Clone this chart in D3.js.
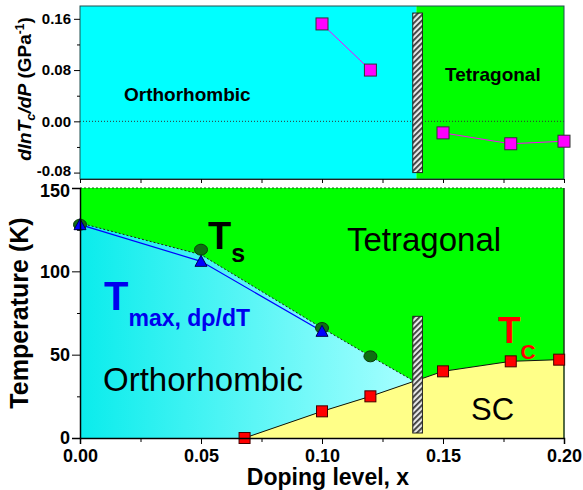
<!DOCTYPE html>
<html>
<head>
<meta charset="utf-8">
<script src="https://cdn.jsdelivr.net/npm/d3@7"></script>
<style>
html,body{margin:0;padding:0;background:#fff;}
svg text{font-family:"Liberation Sans",Arial,sans-serif;}
</style>
</head>
<body>
<svg id="chart" width="583" height="490"></svg>
<script>
// ---------- data ----------
const xTicksMajor = [0, 0.05, 0.10, 0.15, 0.20];
const xTickLabels = ["0.00", "0.05", "0.10", "0.15", "0.20"];
const topYTicks = [-0.08, 0.00, 0.08, 0.16];
const topYTickLabels = ["-0.08", "0.00", "0.08", "0.16"];
const botYTicks = [0, 50, 100, 150];

// top panel: dlnTc/dP
const orthoX = [0.10, 0.12];
const orthoDlnTc = [0.152, 0.080];
const tetraX = [0.15, 0.178, 0.20];
const tetraDlnTc = [-0.018, -0.035, -0.031];

// structural transition Ts
const tsX = [0.00, 0.05, 0.10, 0.12];
const tsT = [128, 113, 66, 49];
// orthorhombic / tetragonal boundary
const boundX = [0.00, 0.05, 0.10, 0.12, 0.137];
const boundT = [129, 110, 66, 49, 35];
// Tmax (d rho / dT)
const tmaxX = [0.00, 0.05, 0.10];
const tmaxT = [128, 106, 64];
// superconducting Tc
const tcX = [0.068, 0.10, 0.12, 0.15, 0.178, 0.198];
const tcT = [0, 16, 25, 40, 46, 47];
// hatched bar (phase boundary)
const barX = [0.1375, 0.1415];
const barTopRange = [-0.080, 0.169];
const barBotRange = [3, 73];

// ---------- scales ----------
const svg = d3.select("#chart");
const x = d3.scaleLinear().domain([0, 0.2]).range([80, 564]);
const yTop = d3.scaleLinear().domain([-0.09, 0.18]).range([179, 6]);
const yBot = d3.scaleLinear().domain([0, 150]).range([438, 188]);

const defs = svg.append("defs");
const grad = defs.append("linearGradient").attr("id", "cyanGrad")
  .attr("gradientUnits", "userSpaceOnUse")
  .attr("x1", x(0)).attr("x2", x(0.137)).attr("y1", 0).attr("y2", 0);
grad.append("stop").attr("offset", "0").attr("stop-color", "#0aecec");
grad.append("stop").attr("offset", "1").attr("stop-color", "#a6ffff");

const pat = defs.append("pattern").attr("id", "hatch")
  .attr("patternUnits", "userSpaceOnUse").attr("width", 4).attr("height", 4)
  .attr("patternTransform", "rotate(45)");
pat.append("rect").attr("width", 4).attr("height", 4).attr("fill", "#e8e8e8");
pat.append("rect").attr("width", 1.8).attr("height", 4).attr("fill", "#3a3a3a");

// ---------- top panel ----------
const gTop = svg.append("g");
gTop.append("rect").attr("x", x(0)).attr("y", yTop(0.18))
  .attr("width", x(0.139) - x(0)).attr("height", yTop(-0.09) - yTop(0.18))
  .attr("fill", "#00ffff");
gTop.append("rect").attr("x", x(0.139)).attr("y", yTop(0.18))
  .attr("width", x(0.2) - x(0.139)).attr("height", yTop(-0.09) - yTop(0.18))
  .attr("fill", "#00ff00");
// zero dotted line
gTop.append("line").attr("x1", x(0)).attr("x2", x(0.2))
  .attr("y1", yTop(0)).attr("y2", yTop(0))
  .attr("stroke", "#333").attr("stroke-width", 1).attr("stroke-dasharray", "1,2");
// frame
gTop.append("rect").attr("x", x(0)).attr("y", yTop(0.18))
  .attr("width", x(0.2) - x(0)).attr("height", yTop(-0.09) - yTop(0.18))
  .attr("fill", "none").attr("stroke", "#205050").attr("stroke-width", 1);
// hatched bar
gTop.append("rect").attr("x", x(barX[0])).attr("y", yTop(barTopRange[1]))
  .attr("width", x(barX[1]) - x(barX[0])).attr("height", yTop(barTopRange[0]) - yTop(barTopRange[1]))
  .attr("fill", "url(#hatch)").attr("stroke", "#222").attr("stroke-width", 1);

const lineTop = d3.line().x(d => x(d[0])).y(d => yTop(d[1]));
[[orthoX, orthoDlnTc], [tetraX, tetraDlnTc]].forEach(([xs, ys]) => {
  const pts = xs.map((v, i) => [v, ys[i]]);
  gTop.append("path").datum(pts).attr("d", lineTop)
    .attr("fill", "none").attr("stroke", "#ff00ff").attr("stroke-width", 1);
  gTop.selectAll(null).data(pts).enter().append("rect")
    .attr("x", d => x(d[0]) - 6).attr("y", d => yTop(d[1]) - 6)
    .attr("width", 12).attr("height", 12)
    .attr("fill", "#ff00ff").attr("stroke", "#333").attr("stroke-width", 1);
});

// top axes
const axTopY = d3.axisLeft(yTop).tickValues(topYTicks)
  .tickFormat((d, i) => topYTickLabels[i]).tickSize(6).tickPadding(3);
const gAxTopY = gTop.append("g").attr("transform", `translate(${x(0)},0)`).call(axTopY);
gAxTopY.select(".domain").remove();
gAxTopY.selectAll("text").attr("font-size", 15).attr("font-weight", "bold").attr("fill", "#000")
  .style("font-family", "Liberation Sans, Arial, sans-serif");
gAxTopY.selectAll("text").filter(d => d === -0.08).attr("dy", "0.2em");
gAxTopY.selectAll("line").attr("stroke", "#000");
const gAxTopYm = gTop.append("g").attr("transform", `translate(${x(0)},0)`)
  .call(d3.axisLeft(yTop).tickValues([-0.04, 0.04, 0.12]).tickFormat("").tickSize(3));
gAxTopYm.select(".domain").remove();

const gAxTopX = gTop.append("g").attr("transform", `translate(0,${yTop(-0.09)})`)
  .call(d3.axisBottom(x).tickValues(d3.range(0, 0.2001, 0.025)).tickFormat("").tickSize(4));
gAxTopX.select(".domain").attr("stroke", "#222");

// top labels
gTop.append("text").attr("x", 124).attr("y", 101).attr("font-size", 19)
  .attr("font-weight", "bold").text("Orthorhombic");
gTop.append("text").attr("x", 445).attr("y", 81).attr("font-size", 19)
  .attr("font-weight", "bold").text("Tetragonal");

// top y label
const tl = gTop.append("text").attr("transform", "translate(31,89) rotate(-90)")
  .attr("text-anchor", "middle").attr("font-size", 19).attr("font-weight", "bold");
tl.append("tspan").attr("font-style", "italic").text("dlnT");
tl.append("tspan").attr("font-style", "italic").attr("font-size", 13).attr("dy", 4).text("c");
tl.append("tspan").attr("font-style", "italic").attr("dy", -4).text("/dP");
tl.append("tspan").text(" (GPa");
tl.append("tspan").attr("font-size", 12).attr("dy", -7).text("-1");
tl.append("tspan").attr("dy", 7).text(")");

// ---------- bottom panel ----------
const gBot = svg.append("g");
gBot.append("rect").attr("x", x(0)).attr("y", yBot(150))
  .attr("width", x(0.2) - x(0)).attr("height", yBot(0) - yBot(150))
  .attr("fill", "#00ff00");

const boundPts = boundX.map((v, i) => [v, boundT[i]]);
const tcPts = tcX.map((v, i) => [v, tcT[i]]);
function tcAt(xv) {
  for (let i = 0; i < tcX.length - 1; i++) {
    if (xv >= tcX[i] && xv <= tcX[i + 1]) {
      return tcT[i] + (tcT[i + 1] - tcT[i]) * (xv - tcX[i]) / (tcX[i + 1] - tcX[i]);
    }
  }
  return tcT[tcT.length - 1];
}
const xEnd = boundX[boundX.length - 1];
const cyanPoly = [[0, 0], ...boundPts, [xEnd, tcAt(xEnd)],
  ...tcPts.filter(p => p[0] < xEnd).reverse()];
const polyLine = d3.line().x(d => x(d[0])).y(d => yBot(d[1]));
gBot.append("path").attr("d", polyLine(cyanPoly) + "Z").attr("fill", "url(#cyanGrad)");

const yellowPoly = [...tcPts, [0.2, tcT[tcT.length - 1]], [0.2, 0]];
gBot.append("path").attr("d", polyLine(yellowPoly) + "Z").attr("fill", "#ffff88");

// boundary dotted line
gBot.append("path").datum(boundPts).attr("d", polyLine)
  .attr("fill", "none").attr("stroke", "#222").attr("stroke-width", 1).attr("stroke-dasharray", "2,2");
// top dashed edge
gBot.append("line").attr("x1", x(0)).attr("x2", x(0.2)).attr("y1", yBot(150)).attr("y2", yBot(150))
  .attr("stroke", "#1a5a1a").attr("stroke-width", 1).attr("stroke-dasharray", "2,2");
// right edge
gBot.append("line").attr("x1", x(0.2)).attr("x2", x(0.2)).attr("y1", yBot(150)).attr("y2", yBot(0))
  .attr("stroke", "#1a3a1a").attr("stroke-width", 1.5);

// Tc line
gBot.append("path").datum([...tcPts, [0.2, tcT[tcT.length - 1]]]).attr("d", polyLine)
  .attr("fill", "none").attr("stroke", "#111").attr("stroke-width", 1);
// Tmax line
const tmaxPts = tmaxX.map((v, i) => [v, tmaxT[i]]);
gBot.append("path").datum(tmaxPts).attr("d", polyLine)
  .attr("fill", "none").attr("stroke", "#0000ff").attr("stroke-width", 1.2);

// hatched bar
gBot.append("rect").attr("x", x(barX[0])).attr("y", yBot(barBotRange[1]))
  .attr("width", x(barX[1]) - x(barX[0])).attr("height", yBot(barBotRange[0]) - yBot(barBotRange[1]))
  .attr("fill", "url(#hatch)").attr("stroke", "#222").attr("stroke-width", 1);

// markers
const tsPts = tsX.map((v, i) => [v, tsT[i]]);
gBot.selectAll(null).data(tsPts).enter().append("ellipse")
  .attr("cx", d => x(d[0])).attr("cy", d => yBot(d[1]))
  .attr("rx", 6.5).attr("ry", 5.5)
  .attr("fill", "#0f6e12").attr("stroke", "#0a3a0a").attr("stroke-width", 1);
gBot.selectAll(null).data(tmaxPts).enter().append("path")
  .attr("transform", d => `translate(${x(d[0])},${yBot(d[1])})`)
  .attr("d", "M0,-6L6,5L-6,5Z")
  .attr("fill", "#0000ff").attr("stroke", "#000050").attr("stroke-width", 1);
gBot.selectAll(null).data(tcPts).enter().append("rect")
  .attr("x", d => x(d[0]) - 5.5).attr("y", d => yBot(d[1]) - 5.5)
  .attr("width", 11).attr("height", 11)
  .attr("fill", "#ff0000").attr("stroke", "#400").attr("stroke-width", 1);

// bottom axes
const axBotY = d3.axisLeft(yBot).tickValues(botYTicks).tickSize(8).tickPadding(2);
const gAxBotY = gBot.append("g").attr("transform", `translate(${x(0)},0)`).call(axBotY);
gAxBotY.select(".domain").attr("stroke", "#000").attr("stroke-width", 1.5);
gAxBotY.selectAll("text").attr("font-size", 18).attr("font-weight", "bold").attr("fill", "#000");
gAxBotY.selectAll("text").filter(d => d === 150).attr("dy", "0.45em");
const gAxBotYm = gBot.append("g").attr("transform", `translate(${x(0)},0)`)
  .call(d3.axisLeft(yBot).tickValues([25, 75, 125]).tickFormat("").tickSize(3));
gAxBotYm.select(".domain").remove();

const axBotX = d3.axisBottom(x).tickValues(xTicksMajor)
  .tickFormat((d, i) => xTickLabels[i]).tickSize(6).tickPadding(5);
const gAxBotX = gBot.append("g").attr("transform", `translate(0,${yBot(0)})`).call(axBotX);
gAxBotX.select(".domain").attr("stroke", "#000").attr("stroke-width", 1.5);
gAxBotX.selectAll("text").attr("font-size", 18).attr("font-weight", "bold").attr("fill", "#000");
const gAxBotXm = gBot.append("g").attr("transform", `translate(0,${yBot(0)})`)
  .call(d3.axisBottom(x).tickValues([0.025, 0.075, 0.125, 0.175]).tickFormat("").tickSize(4));
gAxBotXm.select(".domain").remove();

svg.selectAll(".tick text").style("font-family", "Liberation Sans, Arial, sans-serif");

// axis titles
gBot.append("text").attr("x", 328).attr("y", 485).attr("text-anchor", "middle")
  .attr("font-size", 23).attr("font-weight", "bold").text("Doping level, x");
gBot.append("text").attr("transform", "translate(28,313) rotate(-90)")
  .attr("text-anchor", "middle").attr("font-size", 25).attr("font-weight", "bold")
  .text("Temperature (K)");

// region labels
gBot.append("text").attr("x", 347).attr("y", 251).attr("font-size", 33).text("Tetragonal");
gBot.append("text").attr("x", 103).attr("y", 391).attr("font-size", 33).text("Orthorhombic");
gBot.append("text").attr("x", 471).attr("y", 420).attr("font-size", 31).text("SC");

// Ts label
const tsl = gBot.append("text").attr("x", 208).attr("y", 249).attr("font-weight", "bold").attr("fill", "#000");
tsl.append("tspan").attr("font-size", 38).text("T");
tsl.append("tspan").attr("font-size", 25).attr("dy", 13).text("s");
// Tmax label
const tml = gBot.append("text").attr("x", 104).attr("y", 310).attr("font-weight", "bold").attr("fill", "#0000ee");
tml.append("tspan").attr("font-size", 40).text("T");
tml.append("tspan").attr("font-size", 23).attr("dy", 16).text("max, dρ/dT");
// Tc label
const tcl = gBot.append("text").attr("x", 498).attr("y", 343).attr("font-weight", "bold").attr("fill", "#ff0000");
tcl.append("tspan").attr("font-size", 37).text("T");
tcl.append("tspan").attr("font-size", 21).attr("dy", 16).text("C");
</script>
</body>
</html>
